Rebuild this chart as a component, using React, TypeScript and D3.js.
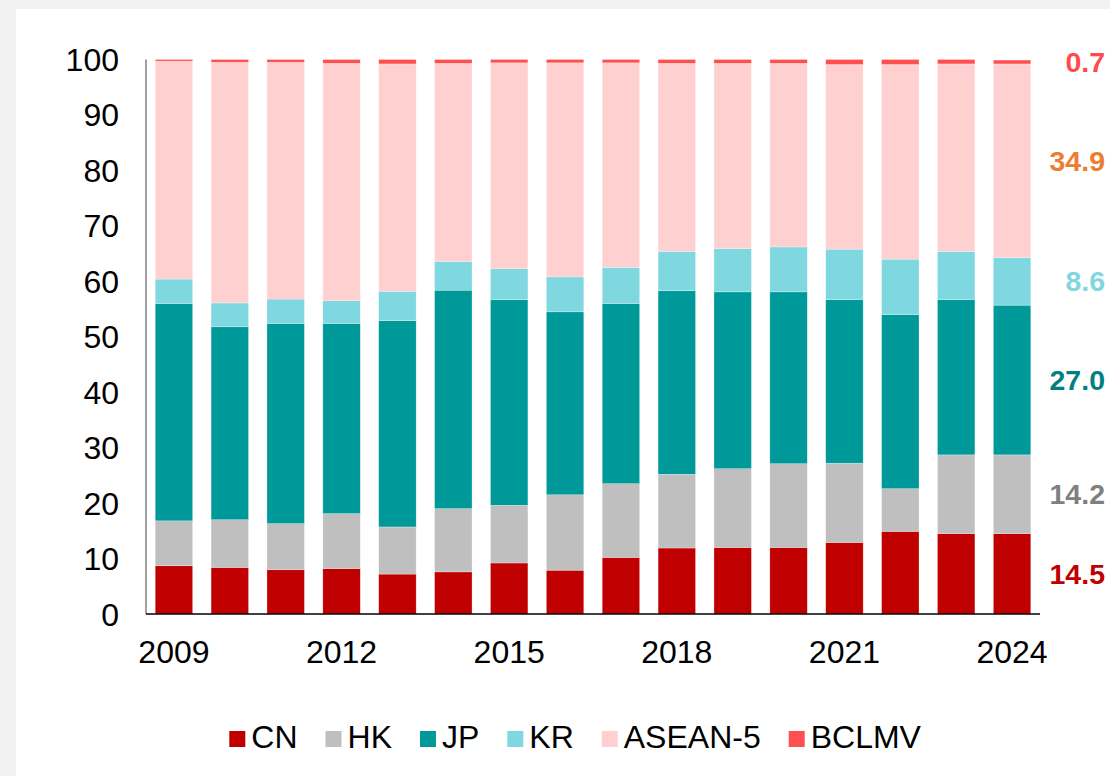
import React, { useEffect, useRef } from "react";
import * as d3 from "d3";

const years = ["2009","2010","2011","2012","2013","2014","2015","2016","2017","2018","2019","2020","2021","2022","2023","2024"];
const tickYears = ["2009","2012","2015","2018","2021","2024"];
const yTicks = [0,10,20,30,40,50,60,70,80,90,100];
const keys = ["CN","HK","JP","KR","ASEAN-5","BCLMV"];
const cn = [8.7, 8.4, 8.0, 8.2, 7.2, 7.6, 9.2, 7.9, 10.2, 11.9, 12.0, 12.0, 12.9, 14.9, 14.5, 14.5];
const hk = [8.1, 8.6, 8.3, 9.9, 8.5, 11.4, 10.4, 13.6, 13.3, 13.3, 14.2, 15.1, 14.3, 7.7, 14.2, 14.2];
const jp = [39.2, 34.8, 36.1, 34.3, 37.2, 39.4, 37.1, 33.0, 32.5, 33.1, 31.9, 31.0, 29.5, 31.4, 28.0, 27.0];
const kr = [4.4, 4.3, 4.4, 4.1, 5.3, 5.2, 5.6, 6.3, 6.5, 7.1, 7.8, 8.1, 9.1, 10.0, 8.7, 8.6];
const asean = [39.3, 43.4, 42.7, 42.8, 41.0, 35.7, 37.1, 38.6, 36.9, 33.9, 33.4, 33.1, 33.3, 35.1, 33.8, 34.9];
const bclmv = [0.3, 0.5, 0.5, 0.7, 0.8, 0.7, 0.6, 0.6, 0.6, 0.7, 0.7, 0.7, 0.9, 0.9, 0.8, 0.7];
const fills = ["#c00000","#bfbfbf","#009999","#7fd7e0","#ffd0d0","#ff5050"];
const labelColors = ["#c00000","#7f7f7f","#008080","#7fd7e0","#ed7d31","#ff4b4b"];

export default function App() {
  const ref = useRef<SVGSVGElement>(null);
  useEffect(() => {
    const svg = d3.select(ref.current);
    svg.selectAll("*").remove();
    const font = "'Liberation Sans', Arial, sans-serif";
    svg.append("rect").attr("width", 1110).attr("height", 776).attr("fill", "#f2f2f2");
    svg.append("rect").attr("x", 16).attr("y", 9).attr("width", 1094).attr("height", 767).attr("fill", "#fff");

    const rows = years.map((yr, i) => ({
      year: yr, CN: cn[i], HK: hk[i], JP: jp[i], KR: kr[i], "ASEAN-5": asean[i], BCLMV: bclmv[i],
    }));
    const stacked = d3.stack<any>().keys(keys)(rows);

    const x = d3.scaleBand().domain(years).range([146, 1040]).paddingInner(0.33).paddingOuter(0.165);
    const y = d3.scaleLinear().domain([0, 100]).range([614, 59.5]);

    stacked.forEach((layer, k) => {
      svg.append("g").selectAll("rect").data(layer).join("rect")
        .attr("x", (d: any) => x(d.data.year)!)
        .attr("width", x.bandwidth())
        .attr("y", (d: any) => y(d[1]))
        .attr("height", (d: any) => y(d[0]) - y(d[1]))
        .attr("fill", fills[k])
        .attr("stroke", "#ffffff").attr("stroke-width", 0.6).attr("stroke-opacity", 0.45);
    });

    // axes
    svg.append("line").attr("x1", 146).attr("x2", 146).attr("y1", y(100)).attr("y2", y(0))
      .attr("stroke", "#808080").attr("stroke-width", 1.5);
    svg.append("line").attr("x1", 146).attr("x2", 1040).attr("y1", y(0)).attr("y2", y(0))
      .attr("stroke", "#000").attr("stroke-width", 1.3);

    svg.append("g").selectAll("text").data(yTicks).join("text")
      .attr("x", 119).attr("y", (d) => y(d) + 11.5)
      .attr("text-anchor", "end").attr("font-family", font).attr("font-size", 32).attr("fill", "#000")
      .text((d) => String(d));

    svg.append("g").selectAll("text").data(tickYears).join("text")
      .attr("x", (d) => x(d)! + x.bandwidth() / 2).attr("y", 663)
      .attr("text-anchor", "middle").attr("font-family", font).attr("font-size", 32).attr("fill", "#000")
      .text((d) => d);

    // right labels for last year
    const last = years.length - 1;
    stacked.forEach((layer, k) => {
      const d = layer[last];
      const v = d[1] - d[0];
      svg.append("text")
        .attr("x", 1105).attr("y", y((d[0] + d[1]) / 2) + 10)
        .attr("text-anchor", "end").attr("font-family", font).attr("font-weight", "bold")
        .attr("font-size", 28.5).attr("fill", labelColors[k])
        .text(v.toFixed(1));
    });

    // legend
    const lg = svg.append("g");
    let cx = 229.3;
    keys.forEach((k, i) => {
      lg.append("rect").attr("x", cx).attr("y", 731).attr("width", 16).attr("height", 16).attr("fill", fills[i]);
      const t = lg.append("text").attr("x", cx + 22).attr("y", 748)
        .attr("font-family", font).attr("font-size", 32).attr("fill", "#000").text(k);
      const w = (t.node() as SVGTextElement).getComputedTextLength();
      cx = cx + 22 + w + 28;
    });
  }, []);
  return (
    <svg ref={ref} width={1110} height={776}
      style={{ position: "absolute", left: 0, top: 0, display: "block" }} />
  );
}
